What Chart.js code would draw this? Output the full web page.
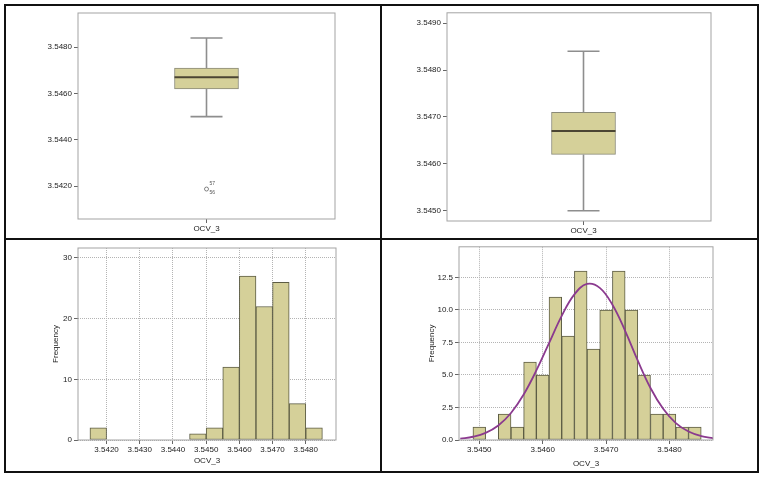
<!DOCTYPE html>
<html>
<head>
<meta charset="utf-8">
<script src="https://cdn.jsdelivr.net/npm/chart.js@4.4.1/dist/chart.umd.min.js"></script>
<style>
  body { margin: 0; background: #fff; }
  #page { position: relative; width: 763px; height: 477px; }
  .cell { position: absolute; }
  .rule { position: absolute; background: #111; }
</style>
</head>
<body>
<div id="page">
  <div class="cell" style="left:6px;top:6px"><canvas id="boxA" width="375" height="233"></canvas></div>
  <div class="cell" style="left:382px;top:6px"><canvas id="boxB" width="375" height="233"></canvas></div>
  <div class="cell" style="left:6px;top:240px"><canvas id="histC" width="375" height="232"></canvas></div>
  <div class="cell" style="left:382px;top:240px"><canvas id="histD" width="375" height="232"></canvas></div>

  <div class="rule" style="left:4px;top:4px;width:755px;height:2px"></div>
  <div class="rule" style="left:4px;top:471px;width:755px;height:2px"></div>
  <div class="rule" style="left:4px;top:4px;width:2px;height:469px"></div>
  <div class="rule" style="left:757px;top:4px;width:2px;height:469px"></div>
  <div class="rule" style="left:380px;top:4px;width:2px;height:469px"></div>
  <div class="rule" style="left:4px;top:238px;width:755px;height:2px"></div>
</div>
<script>
// ---- data ----
const category = ['OCV_3'];

// box plot (same variable in both top panels)
const whiskerLow = 3.5450;
const quartile1 = 3.5462;
const median = 3.5467;
const quartile3 = 3.5471;
const whiskerHigh = 3.5484;
const outlierValues = [3.54187];
const outlierCases = ['57', '56'];

const yTicksBoxA = [3.5420, 3.5440, 3.5460, 3.5480];
const yTicksBoxB = [3.5450, 3.5460, 3.5470, 3.5480, 3.5490];

// histogram, all cases (bin width 0.0005)
const binWidthC = 0.0005;
const binStartsC = [3.5415, 3.5420, 3.5425, 3.5430, 3.5435, 3.5440, 3.5445,
                    3.5450, 3.5455, 3.5460, 3.5465, 3.5470, 3.5475, 3.5480];
const countsC = [2, 0, 0, 0, 0, 0, 1, 2, 12, 27, 22, 26, 6, 2];
const xTicksC = [3.5420, 3.5430, 3.5440, 3.5450, 3.5460, 3.5470, 3.5480];
const yTicksC = [0, 10, 20, 30];

// histogram without outliers (bin width 0.0002) + normal curve
const binWidthD = 0.0002;
const binStartsD = [3.5449, 3.5451, 3.5453, 3.5455, 3.5457, 3.5459, 3.5461, 3.5463, 3.5465,
                    3.5467, 3.5469, 3.5471, 3.5473, 3.5475, 3.5477, 3.5479, 3.5481, 3.5483];
const countsD = [1, 0, 2, 1, 6, 5, 11, 8, 13, 7, 10, 13, 10, 5, 2, 2, 1, 1];
const curveX = [3.5447, 3.5449, 3.5451, 3.5453, 3.5455, 3.5457, 3.5459, 3.5461, 3.5463, 3.5465, 3.5467,
                3.5469, 3.5471, 3.5473, 3.5475, 3.5477, 3.5479, 3.5481, 3.5483, 3.5485, 3.5487];
const curveY = [0.10, 0.25, 0.55, 1.12, 2.08, 3.50, 5.35, 7.45, 9.55, 11.2, 12.0,
                11.7, 10.4, 8.4, 6.1, 4.0, 2.4, 1.3, 0.65, 0.3, 0.12];
const xTicksD = [3.5450, 3.5460, 3.5470, 3.5480];
const yTicksD = [0, 2.5, 5, 7.5, 10, 12.5];

// ---- styles ----
Chart.defaults.font.family = '"Liberation Sans", Arial, sans-serif';
Chart.defaults.font.size = 8;
Chart.defaults.color = '#222';

const barFill = '#d5d099';
const barEdge = '#5c5c44';
const frameGray = '#a3a3a3';

const plotFrame = {
    id: 'plotFrame',
    afterDraw(chart, args, options) {
        const {ctx, chartArea: {left, top, width, height}} = chart;
        ctx.save();
        ctx.strokeStyle = options.color || frameGray;
        ctx.lineWidth = options.width || 1;
        ctx.strokeRect(left, top, width, height);
        ctx.restore();
    },
};

const boxWhiskers = {
    id: 'boxWhiskers',
    afterDatasetsDraw(chart, args, options) {
        const {ctx, scales: {y}} = chart;
        const bar = chart.getDatasetMeta(0).data[0];
        const cx = bar.x;
        const half = bar.width / 2;
        const cap = 16;
        ctx.save();
        ctx.strokeStyle = '#8e8e8e';
        ctx.lineWidth = 1.6;
        ctx.beginPath();
        ctx.moveTo(cx, y.getPixelForValue(quartile3));
        ctx.lineTo(cx, y.getPixelForValue(whiskerHigh));
        ctx.moveTo(cx, y.getPixelForValue(quartile1));
        ctx.lineTo(cx, y.getPixelForValue(whiskerLow));
        ctx.moveTo(cx - cap, y.getPixelForValue(whiskerHigh));
        ctx.lineTo(cx + cap, y.getPixelForValue(whiskerHigh));
        ctx.moveTo(cx - cap, y.getPixelForValue(whiskerLow));
        ctx.lineTo(cx + cap, y.getPixelForValue(whiskerLow));
        ctx.stroke();

        ctx.strokeStyle = '#4b4533';
        ctx.lineWidth = 2;
        ctx.beginPath();
        ctx.moveTo(cx - half, y.getPixelForValue(median));
        ctx.lineTo(cx + half, y.getPixelForValue(median));
        ctx.stroke();

        if (options.outliers) {
            ctx.fillStyle = '#555';
            ctx.font = '5px "Liberation Sans", Arial, sans-serif';
            ctx.textAlign = 'left';
            ctx.textBaseline = 'middle';
            outlierValues.forEach(v => {
                const py = y.getPixelForValue(v);
                ctx.fillText(outlierCases[0], cx + 3, py - 5);
                ctx.fillText(outlierCases[1], cx + 3, py + 4);
            });
        }
        ctx.restore();
    },
};

function valueTicks(list) {
    return scale => { scale.ticks = list.map(v => ({value: v})); };
}

function boxChart(canvasId, yMin, yMax, yTicks, xMax, padTop, yWidth, xHeight, withOutliers) {
    const datasets = [{
        data: [{x: 0, y: [quartile1, quartile3]}],
        backgroundColor: barFill,
        borderColor: '#8a8a78',
        borderWidth: 1,
        borderSkipped: false,
        barThickness: 64,
    }];
    if (withOutliers) {
        datasets.push({
            type: 'scatter',
            data: outlierValues.map(v => ({x: 0, y: v})),
            pointRadius: 2,
            pointBorderWidth: 0.8,
            pointBorderColor: '#666',
            pointBackgroundColor: 'rgba(0,0,0,0)',
        });
    }
    return new Chart(document.getElementById(canvasId), {
        type: 'bar',
        data: {datasets},
        options: {
            responsive: false,
            animation: false,
            layout: {padding: {top: padTop, right: 46, left: 0, bottom: 0}},
            plugins: {
                legend: {display: false},
                tooltip: {enabled: false},
                boxWhiskers: {outliers: withOutliers},
            },
            scales: {
                x: {
                    type: 'linear',
                    offset: false,
                    min: -1,
                    max: xMax,
                    afterBuildTicks: valueTicks([0]),
                    afterFit: s => { s.height = xHeight; },
                    ticks: {callback: () => category[0], padding: 1},
                    grid: {offset: false, drawOnChartArea: false, tickLength: 4, color: '#666'},
                    border: {display: false},
                },
                y: {
                    min: yMin,
                    max: yMax,
                    afterBuildTicks: valueTicks(yTicks),
                    afterFit: s => { s.width = yWidth; },
                    ticks: {callback: v => v.toFixed(4), padding: 2},
                    grid: {drawOnChartArea: false, tickLength: 4, color: '#666'},
                    border: {display: false},
                },
            },
        },
        plugins: [plotFrame, boxWhiskers],
    });
}

boxChart('boxA', 3.540575, 3.54948, yTicksBoxA, 1, 7, 72, 20, true);
boxChart('boxB', 3.54478, 3.54922, yTicksBoxB, 0.934, 6, 65, 18, false);

function histChart(canvasId, starts, width, counts, curve, xRange, yMax, xTicks, yTicks, yDigits, sizes) {
    const datasets = [{
        data: starts.map((s, i) => ({x: s + width / 2, y: counts[i]})),
        backgroundColor: barFill,
        borderColor: barEdge,
        borderWidth: 1,
        borderSkipped: false,
        barPercentage: 1,
        categoryPercentage: 1,
        order: 1,
    }];
    if (curve) {
        datasets.push({
            type: 'line',
            data: curve.x.map((x, i) => ({x: x, y: curve.y[i]})),
            borderColor: '#8b3a8f',
            borderWidth: 1.8,
            pointRadius: 0,
            tension: 0.4,
            order: 0,
        });
    }
    return new Chart(document.getElementById(canvasId), {
        type: 'bar',
        data: {datasets},
        options: {
            responsive: false,
            animation: false,
            layout: {padding: {top: sizes.top, right: sizes.right, left: 0, bottom: 0}},
            plugins: {
                legend: {display: false},
                tooltip: {enabled: false},
            },
            scales: {
                x: {
                    type: 'linear',
                    offset: false,
                    min: xRange[0],
                    max: xRange[1],
                    afterBuildTicks: valueTicks(xTicks),
                    afterFit: s => { s.height = sizes.xHeight; },
                    ticks: {callback: v => v.toFixed(4), padding: 1},
                    grid: {offset: false, color: '#b4b4b4', tickLength: 4, tickColor: '#666'},
                    border: {display: false, dash: [1, 1]},
                    title: {display: true, text: category[0], padding: {top: 0, bottom: sizes.titleBottom}},
                },
                y: {
                    min: 0,
                    max: yMax,
                    afterBuildTicks: valueTicks(yTicks),
                    afterFit: s => { s.width = sizes.yWidth; },
                    ticks: {callback: v => v.toFixed(yDigits), padding: 2},
                    grid: {color: '#b4b4b4', tickLength: 4, tickColor: '#666'},
                    border: {display: false, dash: [1, 1]},
                    title: {display: true, text: 'Frequency', padding: {top: 45, bottom: 0}},
                },
            },
        },
        plugins: [plotFrame],
    });
}

histChart('histC', binStartsC, binWidthC, countsC, null, [3.54114, 3.54891], 31.64,
    xTicksC, yTicksC, 0, {top: 8, right: 45, xHeight: 32, yWidth: 72, titleBottom: 6});
histChart('histD', binStartsD, binWidthD, countsD, {x: curveX, y: curveY}, [3.54468, 3.548686], 14.86,
    xTicksD, yTicksD, 1, {top: 5, right: 44, xHeight: 32, yWidth: 77, titleBottom: 3});
</script>
</body>
</html>
